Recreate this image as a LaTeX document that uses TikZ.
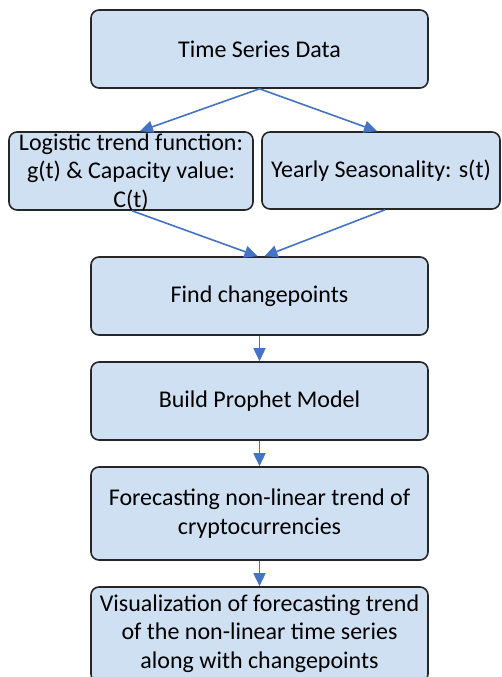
\documentclass[tikz,border=0pt]{standalone}
\usepackage{fontspec}
\setmainfont{Carlito}
\usetikzlibrary{arrows.meta}
\definecolor{boxfill}{HTML}{CFE0F2}
\definecolor{boxline}{HTML}{262626}
\definecolor{arrowblue}{HTML}{4472C4}
\tikzset{
  stepbox/.style={draw=boxline, fill=boxfill, line width=1.6pt, rounded corners=8pt, inner sep=0pt},
  boxtext/.style={align=center, inner sep=0pt, font=\fontsize{24}{28.5}\selectfont, text=black},
  flow/.style={draw=arrowblue, line width=1.6pt, -{Triangle[length=13pt,width=12pt]}}
}
\begin{document}
\begin{tikzpicture}[x=1pt,y=-1pt]
\useasboundingbox (0,0) rectangle (502,677);
\clip (0,0) rectangle (502,677);
% boxes
\node[stepbox, minimum width=337pt, minimum height=78pt] (b1) at (259.5,49) {};
\node[stepbox, minimum width=244pt, minimum height=78pt] (b2) at (131,171) {};
\node[stepbox, minimum width=238pt, minimum height=77pt] (b3) at (381,170.5) {};
\node[stepbox, minimum width=337pt, minimum height=78pt] (b4) at (259.5,296) {};
\node[stepbox, minimum width=337pt, minimum height=78pt] (b5) at (259.5,401) {};
\node[stepbox, minimum width=337pt, minimum height=93pt] (b6) at (259.5,513.5) {};
\node[stepbox, minimum width=337pt, minimum height=95pt] (b7) at (259.5,634.5) {};
% labels
\node[boxtext] (l1) at (b1.center) {Time Series Data};
\node[boxtext] (l2) at ([yshift=-1pt]b2.center) {Logistic trend function:\\g(t) \& Capacity value:\\C(t)};
\node[boxtext] (l3) at (b3.center) {Yearly Seasonality: s(t)};
\node[boxtext] (l4) at (b4.center) {Find changepoints};
\node[boxtext] (l5) at (b5.center) {Build Prophet Model};
\node[boxtext] (l6) at (b6.center) {Forecasting non-linear trend of\\cryptocurrencies};
\node[boxtext] (l7) at ([yshift=1pt]b7.center) {Visualization of forecasting trend\\of the non-linear time series\\along with changepoints};
% connectors
\draw[flow] (b1.south) -- ([xshift=9pt]b2.north);
\draw[flow] (b1.south) -- ([xshift=-4pt]b3.north);
\draw[flow] ([xshift=1pt]b2.south) -- ([xshift=-2pt]b4.north);
\draw[flow] ([xshift=4pt]b3.south) -- ([xshift=5pt]b4.north);
\draw[flow] (b4.south) -- (b5.north);
\draw[flow] (b5.south) -- (b6.north);
\draw[flow] (b6.south) -- (b7.north);
\end{tikzpicture}
\end{document}
